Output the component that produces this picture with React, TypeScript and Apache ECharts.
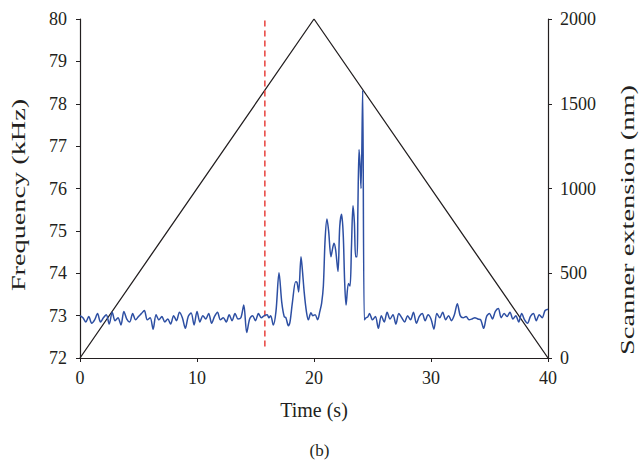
import React, { useEffect, useRef } from "react";
import * as echarts from "echarts";

// Baseline before the event: t = 0 .. 15.75 s, step 0.25 s
const baseTimesA: number[] = Array.from({ length: 64 }, (_, i) => i * 0.25);
const baseFreqA: number[] = [
  73.0, 72.95, 72.85, 72.98, 72.82, 72.9, 73.05, 72.85, 72.95, 73.02,
  72.8, 73.08, 72.88, 72.95, 72.78, 73.1, 72.92, 72.85, 73.05, 72.9,
  72.98, 73.05, 73.12, 72.9, 72.95, 72.68, 73.02, 72.9, 72.98, 72.85,
  72.92, 72.8, 73.0, 72.88, 73.08, 72.95, 72.7, 72.98, 73.06, 72.78,
  73.1, 72.85, 73.0, 72.92, 73.05, 72.82, 72.98, 73.08, 72.9, 72.95,
  72.85, 73.02, 72.88, 73.05, 72.92, 72.95, 73.25, 72.6, 72.92, 73.0,
  72.88, 73.05, 72.95, 73.0,
];

// Event region (irregular times)
const eventTimes: number[] = [
  16.0, 16.15, 16.3, 16.52, 16.75, 17.01, 17.25, 17.46, 17.6, 17.81, 17.95,
  18.15, 18.43, 18.55, 18.69, 18.89, 19.0, 19.17, 19.35, 19.52, 19.74, 19.9,
  20.1, 20.31, 20.5, 20.65, 20.8, 20.95, 21.11, 21.25, 21.45, 21.6, 21.71,
  21.85, 22.05, 22.2, 22.36, 22.5, 22.62, 22.74, 22.94, 23.08, 23.2, 23.33,
  23.45, 23.56, 23.68, 23.75, 23.85, 23.93, 24.02, 24.16, 24.3, 24.45, 24.6,
];
const eventFreq: number[] = [
  73.02, 72.95, 73.0, 72.78, 73.1, 74.01, 73.3, 72.97, 72.95, 72.76, 72.85,
  73.3, 73.8, 73.78, 73.56, 74.39, 74.1, 73.53, 73.1, 72.9, 73.07, 73.0,
  73.02, 72.9, 73.1, 73.29, 73.7, 74.8, 75.28, 75.0, 74.39, 74.6, 74.71,
  74.55, 74.04, 75.1, 75.39, 74.9, 73.8, 73.25, 73.76, 73.7, 74.6, 75.59,
  75.2, 74.39, 74.39, 75.5, 76.92, 76.6, 76.0, 78.32, 72.9, 72.95, 72.97,
];

// Baseline after the event: t = 24.75 .. 40 s, step 0.25 s
const baseTimesB: number[] = Array.from({ length: 62 }, (_, i) => 24.75 + i * 0.25);
const baseFreqB: number[] = [
  73.05, 72.9, 72.98, 72.7, 73.0, 72.85, 73.08, 72.92, 73.02, 72.8,
  73.05, 72.95, 72.85, 73.0, 72.9, 73.08, 72.82, 72.98, 73.05, 72.88,
  73.02, 72.92, 72.68, 73.05, 72.95, 73.08, 72.9, 73.0, 72.88, 73.02,
  73.28, 73.0, 72.95, 72.98, 72.9, 72.92, 72.95, 72.92, 72.9, 72.7,
  72.98, 73.05, 72.92, 73.1, 73.17, 72.95, 73.05, 72.98, 73.08, 72.92,
  73.0, 72.85, 73.05, 72.9, 72.82, 72.98, 73.05, 72.88, 73.02, 72.95,
  73.12, 73.15,
];

// Scanner extension (triangle)
const scanTimes: number[] = [0, 20, 40];
const scanExt: number[] = [0, 2000, 0];

// Marker
const markerTime = 15.8;
const markerRange: number[] = [72.27, 80];

const xTicks = { min: 0, max: 40, interval: 10 };
const yLeft = { min: 72, max: 80, interval: 1 };
const yRight = { min: 0, max: 2000, interval: 500 };

const xTitle = "Time (s)";
const yLeftTitle = "Frequency (kHz)";
const yRightTitle = "Scanner extension (nm)";
const caption = "(b)";

const FONT = "Liberation Serif";
const TXT = "#231f20";

export default function App() {
  const ref = useRef<HTMLDivElement>(null);
  useEffect(() => {
    if (!ref.current) return;
    const chart = echarts.init(ref.current, undefined, { renderer: "svg" });
    const freqData: number[][] = [
      ...baseTimesA.map((t, i) => [t, baseFreqA[i]]),
      ...eventTimes.map((t, i) => [t, eventFreq[i]]),
      ...baseTimesB.map((t, i) => [t, baseFreqB[i]]),
    ];
    const axisLine = { show: true, lineStyle: { color: "#231f20", width: 1.2 } };
    const axisTick = { show: true, length: 4, lineStyle: { color: "#231f20", width: 1 } };
    const label = { color: TXT, fontFamily: FONT, fontSize: 18 };
    chart.setOption({
      animation: false,
      backgroundColor: "#ffffff",
      title: {
        text: caption,
        left: "center",
        top: 437,
        textStyle: { color: TXT, fontFamily: FONT, fontSize: 17, fontWeight: "normal" },
      },
      graphic: [
        {
          type: "text",
          x: 19,
          y: 195,
          rotation: Math.PI / 2,
          scaleX: 1.57,
          style: {
            text: yLeftTitle,
            fill: TXT,
            fontFamily: FONT,
            fontSize: 18,
            align: "center",
            verticalAlign: "middle",
          },
        },
        {
          type: "text",
          x: 628,
          y: 220,
          rotation: Math.PI / 2,
          scaleX: 1.58,
          style: {
            text: yRightTitle,
            fill: TXT,
            fontFamily: FONT,
            fontSize: 18,
            align: "center",
            verticalAlign: "middle",
          },
        },
      ],
      grid: { left: 80, right: 91, top: 19, bottom: 104, containLabel: false },
      xAxis: {
        type: "value",
        ...xTicks,
        name: xTitle,
        nameLocation: "middle",
        nameGap: 42,
        nameTextStyle: { color: TXT, fontFamily: FONT, fontSize: 20 },
        axisLine,
        axisTick,
        axisLabel: { ...label, margin: 11 },
        splitLine: { show: false },
      },
      yAxis: [
        {
          type: "value",
          ...yLeft,
          axisLine,
          axisTick,
          axisLabel: { ...label, margin: 13 },
          splitLine: { show: false },
        },
        {
          type: "value",
          ...yRight,
          position: "right",
          axisLine,
          axisTick,
          axisLabel: { ...label, margin: 12, formatter: (v: number) => String(v) },
          splitLine: { show: false },
        },
      ],
      series: [
        {
          type: "line",
          yAxisIndex: 1,
          data: scanTimes.map((t, i) => [t, scanExt[i]]),
          symbol: "none",
          lineStyle: { color: "#231f20", width: 1.3 },
          z: 1,
        },
        {
          type: "line",
          yAxisIndex: 0,
          data: markerRange.map((v) => [markerTime, v]),
          symbol: "none",
          lineStyle: { color: "#e8403c", width: 1.5, type: [6, 4] },
          z: 2,
        },
        {
          type: "line",
          yAxisIndex: 0,
          data: freqData,
          symbol: "none",
          smooth: 0.3,
          lineStyle: { color: "#2d4fa3", width: 1.5 },
          z: 3,
        },
      ],
    });
    return () => chart.dispose();
  }, []);
  return (
    <div
      ref={ref}
      style={{ position: "absolute", left: 0, top: 0, width: 639, height: 462 }}
    />
  );
}
